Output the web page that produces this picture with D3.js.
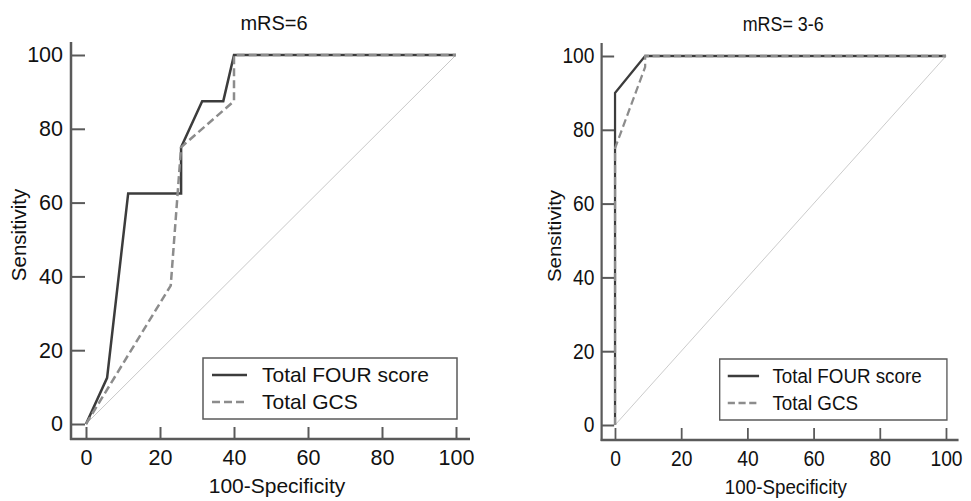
<!DOCTYPE html>
<html>
<head>
<meta charset="utf-8">
<script src="https://cdn.jsdelivr.net/npm/d3@7"></script>
<style>
  body { margin: 0; background: #fff; }
  text { font-family: "Liberation Sans", Arial, sans-serif; fill: #111; }
</style>
</head>
<body>
<div id="chart"></div>
<script>
const tickValues = [0, 20, 40, 60, 80, 100];
const seriesNames = ["Total FOUR score", "Total GCS"];

// panel 1: mRS=6
const four6X = [0, 5.7, 11.4, 25.7, 25.7, 31.4, 37.1, 40, 100];
const four6Y = [0, 12.5, 62.5, 62.5, 75, 87.5, 87.5, 100, 100];
const gcs6X = [0, 22.9, 25.7, 40, 40, 100];
const gcs6Y = [0, 37.5, 75, 87.5, 100, 100];

// panel 2: mRS= 3-6
const four36X = [0, 0, 9.1, 100];
const four36Y = [0, 90, 100, 100];
const gcs36X = [0, 0, 9.1, 9.1, 100];
const gcs36Y = [0, 75, 97, 100, 100];

const svg = d3.select("#chart")
  .append("svg")
    .attr("width", 971)
    .attr("height", 501);

svg.append("rect").attr("width", 971).attr("height", 501).attr("fill", "#fff");

const axisColor = "#5a5a5a";

function drawPanel(g, title, fourX, fourY, gcsX, gcsY) {
  const x = d3.scaleLinear().domain([0, 100]).range([86, 456]);
  const y = d3.scaleLinear().domain([0, 100]).range([424, 55]);

  const line = d3.line()
    .x(d => x(d[0]))
    .y(d => y(d[1]));

  // reference diagonal
  g.append("path")
    .datum([[0, 0], [100, 100]])
    .attr("fill", "none")
    .attr("stroke", "#c8c8c8")
    .attr("stroke-width", 1)
    .attr("d", line);

  // axes, drawn with inward ticks and offset lines
  const yAxis = g.append("g")
    .attr("transform", "translate(71,0)")
    .call(d3.axisLeft(y).tickValues(tickValues).tickSize(-14).tickPadding(8));
  const xAxis = g.append("g")
    .attr("transform", "translate(0,439)")
    .call(d3.axisBottom(x).tickValues(tickValues).tickSize(-12).tickPadding(11));

  [yAxis, xAxis].forEach(a => {
    a.select(".domain").remove();
    a.selectAll("line").attr("stroke", axisColor).attr("stroke-width", 2);
    a.selectAll("text")
      .attr("font-size", 21.5)
      .attr("fill", "#111")
      .style("font-family", "'Liberation Sans', Arial, sans-serif");
  });

  g.append("line")
    .attr("x1", 71).attr("x2", 71).attr("y1", 42).attr("y2", 440)
    .attr("stroke", axisColor).attr("stroke-width", 2.5);
  g.append("line")
    .attr("x1", 70).attr("x2", 470).attr("y1", 439).attr("y2", 439)
    .attr("stroke", axisColor).attr("stroke-width", 2.5);

  // curves: solid first, dashed on top
  g.append("path")
    .datum(d3.zip(fourX, fourY))
    .attr("fill", "none")
    .attr("stroke", "#3c3c3c")
    .attr("stroke-width", 2.5)
    .attr("d", line);

  g.append("path")
    .datum(d3.zip(gcsX, gcsY))
    .attr("fill", "none")
    .attr("stroke", "#8c8c8c")
    .attr("stroke-width", 2.5)
    .attr("stroke-dasharray", "8,4")
    .attr("d", line);

  // titles
  g.append("text")
    .attr("x", 274).attr("y", 30)
    .attr("text-anchor", "middle")
    .attr("font-size", 20)
    .text(title);

  g.append("text")
    .attr("x", 277).attr("y", 493)
    .attr("text-anchor", "middle")
    .attr("font-size", 21)
    .text("100-Specificity");

  g.append("text")
    .attr("transform", "translate(26,235) rotate(-90)")
    .attr("text-anchor", "middle")
    .attr("font-size", 20.5)
    .text("Sensitivity");

  // legend
  const legend = g.append("g");
  legend.append("rect")
    .attr("x", 203).attr("y", 358)
    .attr("width", 254).attr("height", 61)
    .attr("fill", "#fff")
    .attr("stroke", axisColor)
    .attr("stroke-width", 1.5);

  const styles = [
    { color: "#3c3c3c", dash: null },
    { color: "#8c8c8c", dash: "8,4" }
  ];
  seriesNames.forEach((name, i) => {
    const ly = 375 + i * 27;
    legend.append("line")
      .attr("x1", 212).attr("x2", 247)
      .attr("y1", ly).attr("y2", ly)
      .attr("stroke", styles[i].color)
      .attr("stroke-width", 2.5)
      .attr("stroke-dasharray", styles[i].dash);
    legend.append("text")
      .attr("x", 262).attr("y", ly + 7)
      .attr("font-size", 21)
      .text(name);
  });
}

drawPanel(svg.append("g"), "mRS=6", four6X, four6Y, gcs6X, gcs6Y);

// right panel is the same layout squeezed horizontally
drawPanel(
  svg.append("g").attr("transform", "translate(538.1,1) scale(0.8946,1)"),
  "mRS= 3-6", four36X, four36Y, gcs36X, gcs36Y
);
</script>
</body>
</html>
